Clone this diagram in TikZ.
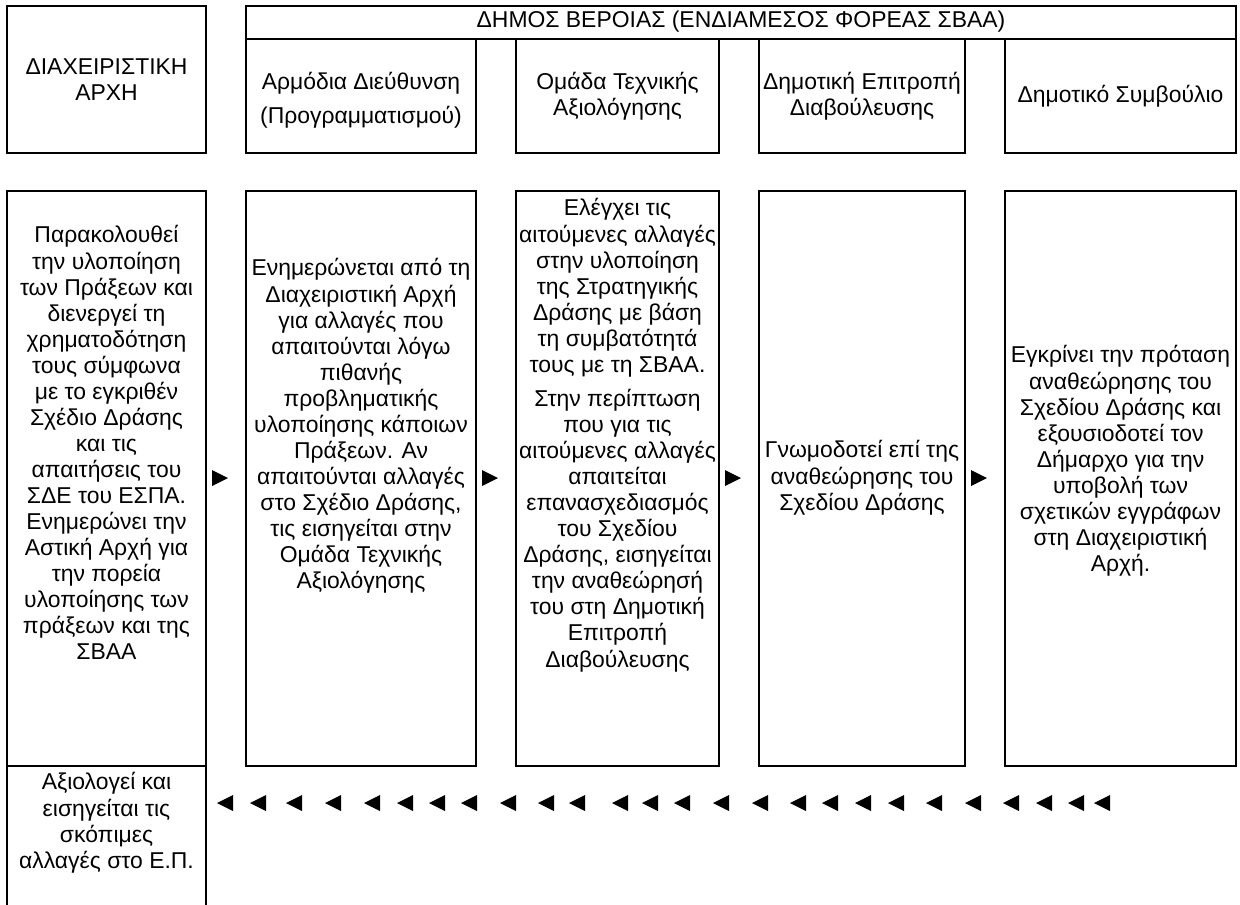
\documentclass[tikz,border=0pt]{standalone}
\usepackage{fontspec}
\setmainfont{Liberation Sans}
\usetikzlibrary{positioning}

\begin{document}
\begin{tikzpicture}[x=0.48pt,y=-0.48pt,line width=0.65pt,
    cell/.style={align=center,inner sep=0pt,font=\fontsize{11}{12.5}\selectfont}]
    \useasboundingbox (0,0) rectangle (1240,904);
    % top row
    \draw (7,6) rectangle (206,153);
    \draw (246,6) rectangle (1236,39);
    \foreach \a/\b in {246/476,516/719,759/965,1005/1236}
        \draw (\a,39) rectangle (\b,153);
    % middle row
    \foreach \a/\b in {7/206,246/476,516/719,759/965,1005/1236}
        \draw (\a,191) rectangle (\b,766);
    \draw (7,910) -- (7,766) -- (206,766) -- (206,910);

    \node[cell] (da) at (106.5,80) {ΔΙΑΧΕΙΡΙΣΤΙΚΗ\\ΑΡΧΗ};
    \node[cell] (dv) at (741,22) {ΔΗΜΟΣ ΒΕΡΟΙΑΣ (ΕΝΔΙΑΜΕΣΟΣ ΦΟΡΕΑΣ ΣΒΑΑ)};
    \node[cell] (ad) at (361,100) {Αρμόδια Διεύθυνση\\[4pt](Προγραμματισμού)};
    \node[cell] (ot) at (617.5,96) {Ομάδα Τεχνικής\\Αξιολόγησης};
    \node[cell] (de) at (862,96) {Δημοτική Επιτροπή\\Διαβούλευσης};
    \node[cell] (ds) at (1120.5,96) {Δημοτικό Συμβούλιο};

    \node[cell,anchor=north] (t1) at (106.5,225) {Παρακολουθεί\\την υλοποίηση\\των Πράξεων και\\διενεργεί τη\\χρηματοδότηση\\τους σύμφωνα\\με το εγκριθέν\\Σχέδιο Δράσης\\και τις\\απαιτήσεις του\\ΣΔΕ του ΕΣΠΑ.\\Ενημερώνει την\\Αστική Αρχή για\\την πορεία\\υλοποίησης των\\πράξεων και της\\ΣΒΑΑ};
    \node[cell,anchor=north] (t2) at (361,258) {Ενημερώνεται από τη\\Διαχειριστική Αρχή\\για αλλαγές που\\απαιτούνται λόγω\\πιθανής\\προβληματικής\\υλοποίησης κάποιων\\Πράξεων. Αν\\απαιτούνται αλλαγές\\στο Σχέδιο Δράσης,\\τις εισηγείται στην\\Ομάδα Τεχνικής\\Αξιολόγησης};
    \node[cell,anchor=north] (t3) at (617.5,198) {Ελέγχει τις\\αιτούμενες αλλαγές\\στην υλοποίηση\\της Στρατηγικής\\Δράσης με βάση\\τη συμβατότητά\\τους με τη ΣΒΑΑ.\\[4pt]Στην περίπτωση\\που για τις\\αιτούμενες αλλαγές\\απαιτείται\\επανασχεδιασμός\\του Σχεδίου\\Δράσης, εισηγείται\\την αναθεώρησή\\του στη Δημοτική\\Επιτροπή\\Διαβούλευσης};
    \node[cell,anchor=north] (t4) at (862,440) {Γνωμοδοτεί επί της\\αναθεώρησης του\\Σχεδίου Δράσης};
    \node[cell,anchor=north] (t5) at (1120.5,345) {Εγκρίνει την πρόταση\\αναθεώρησης του\\Σχεδίου Δράσης και\\εξουσιοδοτεί τον\\Δήμαρχο για την\\υποβολή των\\σχετικών εγγράφων\\στη Διαχειριστική\\Αρχή.};
    \node[cell,anchor=north] (t6) at (106.5,772) {Αξιολογεί και\\εισηγείται τις\\σκόπιμες\\αλλαγές στο Ε.Π.};

    % forward marks
    \foreach \x in {212,482,725,971}
        \fill (\x,470) -- (\x+16,478) -- (\x,486) -- cycle;
    % backward marks
    \foreach \x in {217,250,286,325,364,397,429,461,500,538,569,612,642,674,713,752,790,822,855,888,926,965,1003,1036,1068,1094}
        \fill (\x+16,795) -- (\x,803) -- (\x+16,811) -- cycle;
\end{tikzpicture}
\end{document}
